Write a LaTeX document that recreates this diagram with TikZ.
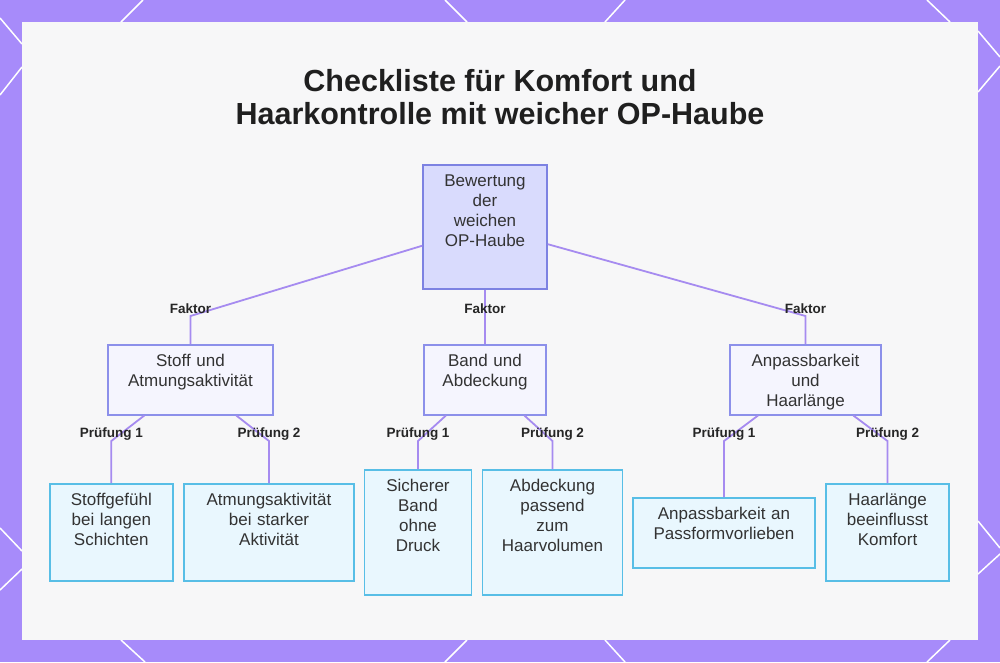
\documentclass[tikz,border=0pt]{standalone}
\usepackage{fontspec}
\setmainfont{Liberation Sans}
\usetikzlibrary{positioning,calc}

\definecolor{bgpurple}{HTML}{A78BFA}
\definecolor{panel}{HTML}{F7F7F8}
\definecolor{rootfill}{HTML}{D9DBFD}
\definecolor{rootline}{HTML}{7D82E2}
\definecolor{midfill}{HTML}{F5F5FE}
\definecolor{midline}{HTML}{8C90EA}
\definecolor{leaffill}{HTML}{E9F7FE}
\definecolor{leafline}{HTML}{58BEE6}
\definecolor{linkcol}{HTML}{A68BF0}
\definecolor{txt}{HTML}{333333}

\begin{document}
\begin{tikzpicture}[x=1pt, y=-1pt]

    \tikzstyle{box} = [rectangle, anchor=north, inner sep=0pt, text height=22pt, align=center, text=txt, line width=1.5pt, font=\fontsize{17}{20}\selectfont]
    \tikzstyle{rootbox} = [box, fill=rootfill, draw=rootline]
    \tikzstyle{factorbox} = [box, fill=midfill, draw=midline]
    \tikzstyle{pruefbox} = [box, fill=leaffill, draw=leafline]
    \tikzstyle{link} = [draw=linkcol, line width=1.8pt]
    \tikzstyle{lbl} = [font=\fontsize{13.5}{16}\selectfont\bfseries, text=black!85, yshift=7pt]

    \useasboundingbox (0,0) rectangle (1000,662);
    \fill[bgpurple] (0,0) rectangle (1000,662);
    \foreach \xa/\ya/\xb/\yb in {143/0/121/22, 445/0/467/22, 625/0/605/22, 927/0/950/22,
                                 121/640/145/662, 467/640/445/662, 605/640/625/662, 950/640/927/662,
                                 0/18/22/44, 22/67/0/95, 0/528/22/551, 22/569/0/590,
                                 978/31/1000/57, 1000/66/978/92, 978/521/1000/548, 1000/554/978/574}
        \draw[white, line width=1.5pt] (\xa,\ya) -- (\xb,\yb);
    \fill[panel] (22,22) rectangle (978,640);

    \node (title)   [anchor=north, align=center, inner sep=0pt, text=black!88,
                     font=\fontsize{30.5}{33}\selectfont\bfseries] at (500,69)
                    {Checkliste für Komfort und\\Haarkontrolle mit weicher OP-Haube};

    \node (root)    [rootbox, text width=124pt, text depth=102pt] at (485,164)   {Bewertung\\der\\weichen\\OP-Haube};

    \node (stoff)   [factorbox, text width=165pt, text depth=48pt] at (190.5,344) {Stoff und\\Atmungsaktivität};
    \node (band)    [factorbox, text width=122pt, text depth=48pt] at (485,344)   {Band und\\Abdeckung};
    \node (anpass)  [factorbox, text width=151pt, text depth=48pt] at (805.5,344) {Anpassbarkeit\\und\\Haarlänge};

    \node (gefuehl) [pruefbox, text width=123pt, text depth=75pt]  at (111.3,483) {Stoffgefühl\\bei langen\\Schichten};
    \node (atmung)  [pruefbox, text width=170pt, text depth=75pt]  at (269,483)   {Atmungsaktivität\\bei starker\\Aktivität};
    \node (sicher)  [pruefbox, text width=107pt, text depth=103pt] at (418,469)   {Sicherer\\Band\\ohne\\Druck};
    \node (volumen) [pruefbox, text width=140pt, text depth=103pt] at (552.5,469) {Abdeckung\\passend\\zum\\Haarvolumen};
    \node (passf)   [pruefbox, text width=182pt, text depth=48pt]  at (724,497)   {Anpassbarkeit an\\Passformvorlieben};
    \node (laenge)  [pruefbox, text width=123pt, text depth=75pt]  at (887.5,483) {Haarlänge\\beeinflusst\\Komfort};

    \coordinate (row2) at (0,316);
    \coordinate (row3) at (0,441);

    \path[link] (root)   -- (stoff.north |- row2)   node[lbl] {Faktor}    -- (stoff);
    \path[link] (root)   -- (band.north |- row2)    node[lbl] {Faktor}    -- (band);
    \path[link] (root)   -- (anpass.north |- row2)  node[lbl] {Faktor}    -- (anpass);

    \path[link] (stoff)  -- (gefuehl.north |- row3) node[lbl] {Prüfung 1} -- (gefuehl);
    \path[link] (stoff)  -- (atmung.north |- row3)  node[lbl] {Prüfung 2} -- (atmung);
    \path[link] (band)   -- (sicher.north |- row3)  node[lbl] {Prüfung 1} -- (sicher);
    \path[link] (band)   -- (volumen.north |- row3) node[lbl] {Prüfung 2} -- (volumen);
    \path[link] (anpass) -- (passf.north |- row3)   node[lbl] {Prüfung 1} -- (passf);
    \path[link] (anpass) -- (laenge.north |- row3)  node[lbl] {Prüfung 2} -- (laenge);

\end{tikzpicture}
\end{document}
